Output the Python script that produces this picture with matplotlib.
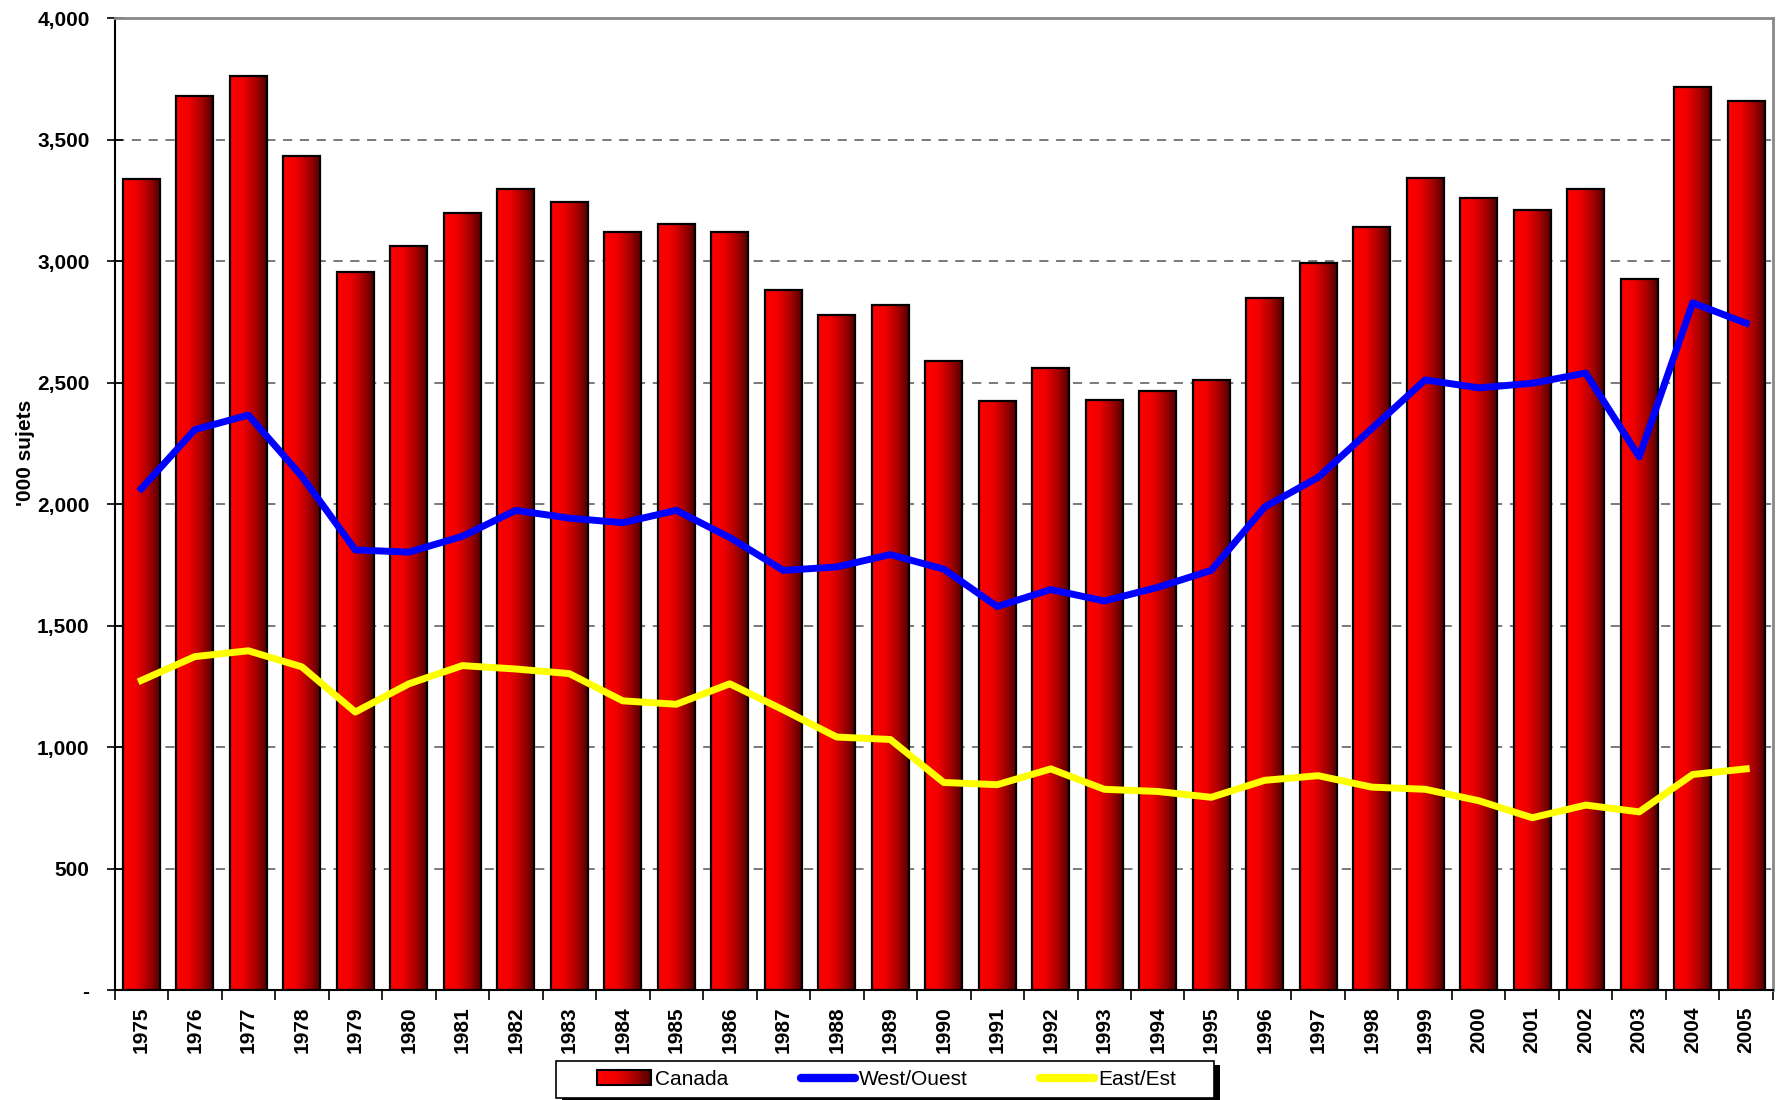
''' Canada / West / East bar + line chart '''
import numpy as np
import matplotlib
matplotlib.use('Agg')
import matplotlib.pyplot as plt
from matplotlib.colors import LinearSegmentedColormap
from matplotlib.patches import Rectangle
from matplotlib.legend_handler import HandlerBase

plt.rcParams['font.family'] = ['Liberation Sans', 'DejaVu Sans']

years = list(range(1975, 2006))
canada = [3337, 3678, 3762, 3431, 2955, 3062, 3197, 3295, 3244, 3118,
          3151, 3118, 2880, 2777, 2819, 2590, 2422, 2558, 2427, 2464,
          2511, 2847, 2992, 3141, 3342, 3258, 3211, 3295, 2926, 3715, 3659]
west = [2063, 2306, 2366, 2114, 1811, 1802, 1867, 1974, 1942, 1923,
        1974, 1862, 1727, 1741, 1792, 1732, 1578, 1648, 1601, 1657,
        1727, 1988, 2110, 2310, 2511, 2478, 2497, 2539, 2194, 2828, 2744]
east = [1274, 1372, 1396, 1330, 1144, 1260, 1335, 1321, 1302, 1190,
        1176, 1260, 1153, 1041, 1031, 854, 845, 910, 826, 817,
        793, 863, 882, 835, 826, 779, 709, 761, 733, 887, 910]

red_grad = LinearSegmentedColormap.from_list(
    'redgrad', [(0, '#ff0000'), (0.35, '#f00000'), (0.7, '#a80000'), (1, '#520000')])
grad = np.linspace(0, 1, 256).reshape(1, -1)


class GradHandler(HandlerBase):
    # legend swatch with the same left->right red gradient
    def create_artists(self, legend, orig_handle, xdescent, ydescent,
                       width, height, fontsize, trans):
        arts = []
        n = 30
        for i in range(n):
            r = Rectangle((xdescent + width * i / n, -ydescent), width / n + 0.3, height,
                          facecolor=red_grad(i / (n - 1)), edgecolor='none', transform=trans)
            arts.append(r)
        arts.append(Rectangle((xdescent, -ydescent), width, height, facecolor='none',
                              edgecolor='black', lw=1.5, transform=trans))
        return arts


fig = plt.figure(figsize=(17.79, 11), dpi=100)
ax = fig.add_axes([0.0644, 0.1, 0.9322, 0.8836])

x = np.arange(len(years))
bars = ax.bar(x, canada, width=0.69, facecolor='none', edgecolor='black', lw=1.6, zorder=3)
for b in bars:
    im = ax.imshow(grad, cmap=red_grad, aspect='auto', zorder=2,
                   extent=(b.get_x(), b.get_x() + b.get_width(), 0, b.get_height()))
    im.set_clip_path(b)

ax.plot(x, west, color='#0000ff', lw=5, zorder=4)
ax.plot(x, east, color='#ffff00', lw=5, zorder=4)

ax.set_xlim(-0.49, 30.47)
ax.set_ylim(0, 4000)

yt = list(range(0, 4001, 500))
ax.set_yticks(yt, ['-' if v == 0 else f'{v:,}' for v in yt])
ax.set_xticks(np.arange(-0.5, 31, 1))
ax.set_xticklabels([])
ax.set_xticks(x, [str(y) for y in years], minor=True)
ax.tick_params(axis='x', which='major', direction='out', length=7, width=1.2)
ax.tick_params(axis='x', which='minor', length=0, rotation=90, labelsize=15, pad=12)
ax.tick_params(axis='y', direction='inout', length=12, width=1.2, labelsize=15, pad=12)
for lab in ax.get_xticklabels(minor=True) + ax.get_yticklabels():
    lab.set_fontweight('bold')

ax.yaxis.grid(True, linestyle=(0, (6, 5)), color='#555555', lw=1.1, zorder=0)
ax.set_axisbelow(True)
for s in ['left', 'bottom']:
    ax.spines[s].set_color('black')
    ax.spines[s].set_linewidth(1.5)
for s in ['top', 'right']:
    ax.spines[s].set_color('#888888')
    ax.spines[s].set_linewidth(2)

ax.set_ylabel("'000 sujets", fontsize=15, fontweight='bold')
ax.yaxis.set_label_coords(-0.0478, 0.553)

# legend box with black drop shadow, drawn in figure pixels
W, H = 1779, 1100
bx, by, bw, bh = 556, 1061, 658, 37
fig.patches.append(Rectangle(((bx + 6) / W, 1 - (by + bh + 4) / H), bw / W, bh / H,
                             transform=fig.transFigure, facecolor='black', edgecolor='none', zorder=1))
fig.patches.append(Rectangle((bx / W, 1 - (by + bh) / H), bw / W, bh / H,
                             transform=fig.transFigure, facecolor='white', edgecolor='black',
                             lw=1.2, zorder=2))

h_can = Rectangle((0, 0), 1, 1)
h_w, = ax.plot([], [], color='#0000ff', lw=6, solid_capstyle='round')
h_e, = ax.plot([], [], color='#ffff00', lw=6, solid_capstyle='round')
leg = fig.legend([h_can, h_w, h_e], ['Canada', 'West/Ouest', 'East/Est'],
                 handler_map={Rectangle: GradHandler()},
                 loc='center', bbox_to_anchor=(0.4983, 1 - (by + bh / 2) / H), ncol=3,
                 fontsize=15, frameon=False, handlelength=2.6, handleheight=0.7,
                 handletextpad=0.2, columnspacing=3.45, borderpad=0.2)
leg.set_zorder(3)

fig.savefig('out.png', dpi=100)
